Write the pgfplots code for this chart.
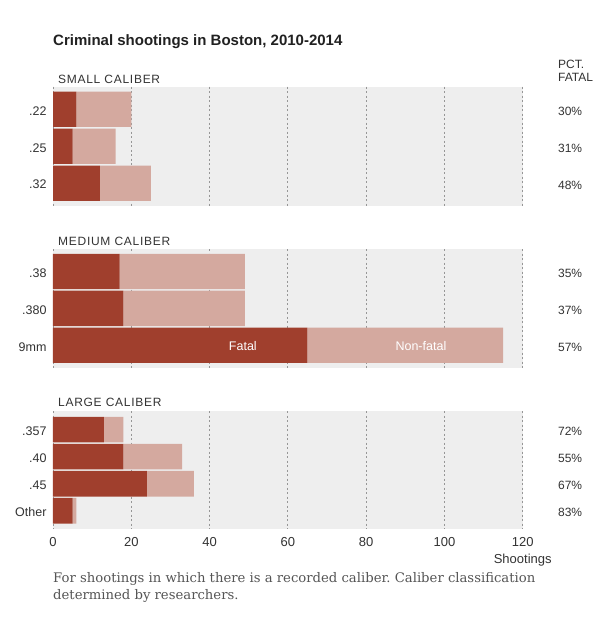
\documentclass[border=0pt]{standalone}
\usepackage{pgfplots}
\pgfplotsset{compat=1.18}
\usepackage{fontspec}
\setmainfont{Liberation Sans}
\newfontfamily\seriffont{DejaVu Serif}
\frenchspacing
\definecolor{fatal}{RGB}{160,63,45}
\definecolor{nonfatal}{RGB}{212,169,159}
\definecolor{panelbg}{RGB}{238,238,238}
\definecolor{gridc}{RGB}{150,150,150}
\definecolor{txt}{RGB}{51,51,51}
\definecolor{note}{RGB}{85,85,85}
\tikzset{
  pct/.style={anchor=west, inner sep=0pt, text=txt, font=\fontsize{12}{14}\selectfont, yshift=-2pt},
  barlab/.style={text=white, inner sep=0pt, font=\fontsize{12.5}{14}\selectfont, yshift=-0.5pt},
}
\pgfplotsset{
  panel/.style={
    scale only axis, width=469.7pt, xmin=0, xmax=120,
    xbar stacked, y dir=reverse, clip=false,
    axis line style={draw=none}, major tick length=0pt,
    axis background/.style={fill=panelbg},
    xtick={0,20,40,60,80,100,120},
    xmajorgrids, grid style={gridc, line width=0.8pt, dash pattern=on 2pt off 2.5pt},
    ytick=data,
    yticklabel style={anchor=east, inner sep=0pt, xshift=-6.3pt, yshift=-1.5pt, text=txt, font=\fontsize{12.5}{14}\selectfont},
    /pgf/number format/assume math mode=true,
  },
}
\begin{document}
\begin{tikzpicture}[x=1pt,y=1pt]
\useasboundingbox (0pt,0pt) rectangle (616pt,625pt);
\fill[white] (0pt,0pt) rectangle (616pt,625pt);
% title
\node[anchor=base west, inner sep=0pt, text=black!87, font=\fontsize{15}{17}\selectfont\bfseries] at (53pt,579pt) {Criminal shootings in Boston, 2010-2014};
\node[anchor=base west, inner sep=0pt, text=txt, font=\fontsize{12}{13}\selectfont, align=left] at (558pt,556.7pt) {PCT.};
\node[anchor=base west, inner sep=0pt, text=txt, font=\fontsize{12}{13}\selectfont, align=left] at (558pt,543.7pt) {FATAL};
% panel labels
\node[anchor=base west, inner sep=0pt, text=txt, font=\fontsize{12}{13}\selectfont\addfontfeature{LetterSpace=6}] at (58pt,541pt) {SMALL CALIBER};
\node[anchor=base west, inner sep=0pt, text=txt, font=\fontsize{12}{13}\selectfont\addfontfeature{LetterSpace=6}] at (58pt,379pt) {MEDIUM CALIBER};
\node[anchor=base west, inner sep=0pt, text=txt, font=\fontsize{12}{13}\selectfont\addfontfeature{LetterSpace=6}] at (58pt,218pt) {LARGE CALIBER};

% small caliber
\begin{axis}[panel, at={(53pt,538.3pt)}, anchor=north west, height=119pt,
  ymin=-0.61, ymax=2.61, bar width=35.3pt,
  yticklabels={.22,.25,.32}, xticklabels={}]
\addplot[draw=none, fill=fatal] coordinates {(6,0) (5,1) (12,2)};
\addplot[draw=none, fill=nonfatal] coordinates {(14,0) (11,1) (13,2)};
\node[pct] at (axis cs:129,0) {30\%};
\node[pct] at (axis cs:129,1) {31\%};
\node[pct] at (axis cs:129,2) {48\%};
\end{axis}

% medium caliber
\begin{axis}[panel, at={(53pt,376pt)}, anchor=north west, height=118.7pt,
  ymin=-0.61, ymax=2.61, bar width=35.3pt,
  yticklabels={.38,.380,9mm}, xticklabels={},
  after end axis/.code={
    \node[barlab] at (axis cs:48.5,2) {Fatal};
    \node[barlab] at (axis cs:94,2) {Non-fatal};
  }]
\addplot[draw=none, fill=fatal] coordinates {(17,0) (18,1) (65,2)};
\addplot[draw=none, fill=nonfatal] coordinates {(32,0) (31,1) (50,2)};
\node[pct] at (axis cs:129,0) {35\%};
\node[pct] at (axis cs:129,1) {37\%};
\node[pct] at (axis cs:129,2) {57\%};
\end{axis}

% large caliber
\begin{axis}[panel, at={(53pt,214pt)}, anchor=north west, height=118.3pt,
  ymin=-0.69, ymax=3.69, bar width=25.7pt,
  yticklabels={.357,.40,.45,Other},
  xtick={0,20,40,60,80,100},
  xticklabels={0,20,40,60,80,100},
  extra x ticks={120}, extra x tick labels={120},
  extra x tick style={xmajorgrids, grid style={gridc, line width=0.8pt, dash pattern=on 2pt off 2.5pt}},
  xticklabel style={anchor=center, inner sep=0pt, yshift=-12.7pt, text=txt, font=\fontsize{13}{15}\selectfont}]
\addplot[draw=none, fill=fatal] coordinates {(13,0) (18,1) (24,2) (5,3)};
\addplot[draw=none, fill=nonfatal] coordinates {(5,0) (15,1) (12,2) (1,3)};
\node[pct] at (axis cs:129,0) {72\%};
\node[pct] at (axis cs:129,1) {55\%};
\node[pct] at (axis cs:129,2) {67\%};
\node[pct] at (axis cs:129,3) {83\%};
\end{axis}

\node[inner sep=0pt, text=txt, font=\fontsize{13}{15}\selectfont] at (522.7pt,65pt) {Shootings};
\node[anchor=base west, inner sep=0pt, text=note, font=\seriffont\fontsize{13.2}{16.6}\selectfont] at (53pt,42.3pt) {For shootings in which there is a recorded caliber. Caliber classification};
\node[anchor=base west, inner sep=0pt, text=note, font=\seriffont\fontsize{13.2}{16.6}\selectfont] at (53pt,25.7pt) {determined by researchers.};
\end{tikzpicture}
\end{document}
